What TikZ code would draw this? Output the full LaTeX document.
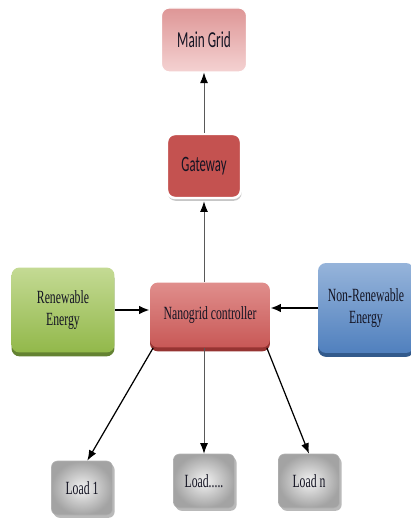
\documentclass[tikz,border=0pt]{standalone}
\usepackage{fontspec}
\setmainfont{Liberation Serif}
\newfontfamily\serifnarrow[FakeStretch=0.63]{Liberation Serif}
\newfontfamily\sansnarrow[FakeStretch=0.58]{Carlito}
\usetikzlibrary{shadows,arrows.meta}

\definecolor{mgTop}{RGB}{222,150,150}
\definecolor{mgBot}{RGB}{244,210,210}
\definecolor{gwFill}{RGB}{196,82,80}
\definecolor{ncTop}{RGB}{224,142,140}
\definecolor{ncBot}{RGB}{200,88,86}
\definecolor{ncShade}{RGB}{150,52,50}
\definecolor{reTop}{RGB}{196,218,148}
\definecolor{reBot}{RGB}{146,184,74}
\definecolor{reShade}{RGB}{100,130,50}
\definecolor{nrTop}{RGB}{150,180,218}
\definecolor{nrBot}{RGB}{80,128,190}
\definecolor{nrShade}{RGB}{50,90,140}
\definecolor{inkText}{RGB}{20,20,35}

\tikzset{
  box/.style={rounded corners=0.16cm, align=center, inner sep=2pt, text=inkText},
  mainbox/.style={box, top color=mgTop, bottom color=mgBot,
    draw=white, line width=0.6pt, font=\sansnarrow\fontsize{13}{15}\selectfont,
    minimum width=1.7cm, minimum height=1.28cm},
  gatebox/.style={box, fill=gwFill, draw=white, line width=1.4pt,
    drop shadow={shadow xshift=0.4pt, shadow yshift=-1.6pt, fill=gray!45, opacity=1},
    font=\sansnarrow\fontsize{12.5}{14}\selectfont,
    minimum width=1.48cm, minimum height=1.28cm},
  ctrlbox/.style={box, top color=ncTop, bottom color=ncBot,
    drop shadow={shadow xshift=0pt, shadow yshift=-2.2pt, fill=ncShade, opacity=1},
    font=\serifnarrow\fontsize{10.6}{12.5}\selectfont,
    minimum width=2.4cm, minimum height=1.3cm},
  renbox/.style={box, top color=reTop, bottom color=reBot,
    drop shadow={shadow xshift=0pt, shadow yshift=-2.2pt, fill=reShade, opacity=1},
    font=\serifnarrow\fontsize{10.6}{12.5}\selectfont,
    minimum width=2.06cm, minimum height=1.7cm},
  nrenbox/.style={box, top color=nrTop, bottom color=nrBot,
    drop shadow={shadow xshift=0pt, shadow yshift=-2.2pt, fill=nrShade, opacity=1},
    font=\serifnarrow\fontsize{10.6}{12.5}\selectfont,
    minimum width=1.92cm, minimum height=1.8cm},
  loadbox/.style={box, rounded corners=0.12cm, inner color=gray!10, outer color=gray!72,
    draw=gray!60, line width=0.3pt,
    drop shadow={shadow xshift=1.2pt, shadow yshift=-1.6pt, fill=gray!55, opacity=1},
    font=\serifnarrow\fontsize{10.6}{12.5}\selectfont,
    minimum width=1.22cm, minimum height=1.08cm},
  thinarrow/.style={-{Latex[length=6pt,width=4.5pt,color=black]}, draw=gray!70!black, line width=0.5pt},
  slantarrow/.style={-{Latex[length=6pt,width=4.5pt]}, draw=black, line width=0.7pt},
  feedarrow/.style={-{Latex[length=6pt,width=5pt]}, draw=black, line width=1.3pt},
}

\begin{document}
\begin{tikzpicture}[x=0.02cm, y=-0.02cm]
  \useasboundingbox (0,0) rectangle (410,519);

  % upper chain
  \node[mainbox] (grid) at (204,40) {Main Grid};
  \node[gatebox] (gate) at (204,166) {Gateway};
  \node[ctrlbox] (ctrl) at (210,315) {Nanogrid controller};

  % sources
  \node[renbox] (ren) at (63,310) {Renewable\\Energy};
  \node[nrenbox] (nren) at (366,308) {Non-Renewable\\Energy};

  % loads
  \node[loadbox] (load1) at (82,488) {Load 1};
  \node[loadbox] (loadm) at (204,481) {Load.....};
  \node[loadbox] (loadn) at (309,481) {Load n};

  % connectors
  \draw[thinarrow] (gate.north) -- (grid.south);
  \draw[thinarrow] (gate.south |- ctrl.north) -- ([yshift=-1.2pt]gate.south);
  \draw[feedarrow] (ren.east) -- (ren.east -| ctrl.west);
  \draw[feedarrow] (nren.west) -- (nren.west -| ctrl.east);
  \draw[slantarrow] ([xshift=2pt]ctrl.south west) -- ([xshift=3pt]load1.north);
  \draw[thinarrow] (loadm.north |- ctrl.south) -- (loadm.north);
  \draw[slantarrow] ([xshift=-2pt]ctrl.south east) -- (loadn.north);
\end{tikzpicture}
\end{document}
